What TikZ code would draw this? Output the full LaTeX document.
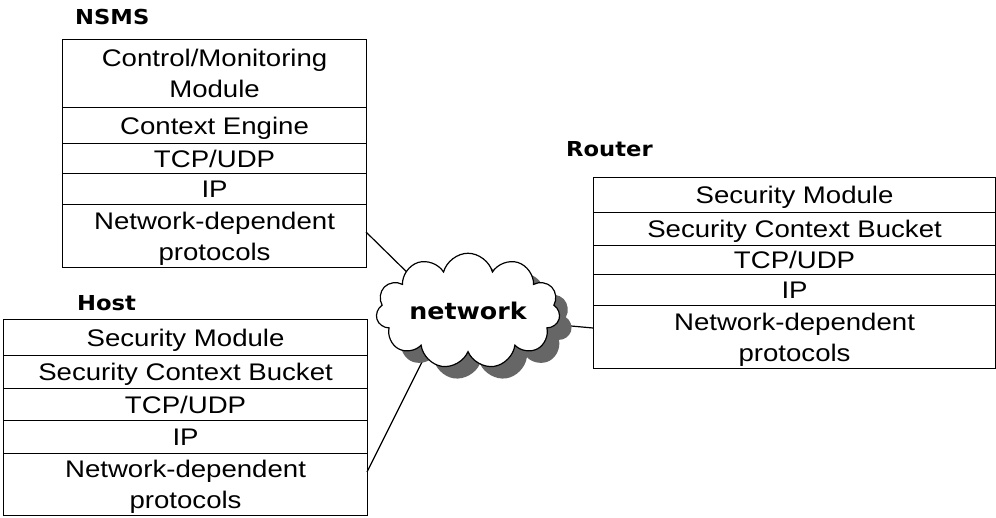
\documentclass[tikz,border=0pt]{standalone}
\usepackage{fontspec}
\usetikzlibrary{shapes.symbols,shadows}
\newfontfamily\bodyfont[FakeStretch=1.15]{Liberation Sans}
\newfontfamily\labfont[FakeStretch=1.1]{DejaVu Sans}
\begin{document}
\begin{tikzpicture}[x=1pt,y=-1pt,
  row/.style={draw, line width=1.1pt, inner sep=0pt, align=center, anchor=north west,
    font=\bodyfont\fontsize{24}{31}\selectfont},
  one/.style={text height=17pt, text depth=0pt},
  two/.style={text height=48pt, text depth=0pt},
  lab/.style={anchor=base west, inner sep=0pt, font=\labfont\bfseries\fontsize{20.6}{24}\selectfont},
  link/.style={line width=1.2pt}]
\useasboundingbox (0,0) rectangle (996,518);

% NSMS
\node[lab] (nsmsl) at (75,25) {NSMS};
\node[row,two,minimum width=304pt,minimum height=68pt] (n1) at (62,39) {Control/Monitoring\\Module};
\node[row,one,minimum width=304pt,minimum height=36pt] (n2) at (62,107) {Context Engine};
\node[row,one,minimum width=304pt,minimum height=30pt] (n3) at (62,143) {TCP/UDP};
\node[row,one,minimum width=304pt,minimum height=31pt] (n4) at (62,173) {IP};
\node[row,two,minimum width=304pt,minimum height=63pt] (n5) at (62,204) {Network-dependent\\protocols};

% Host
\node[lab] (hostl) at (77,311) {Host};
\node[row,one,minimum width=364pt,minimum height=36pt] (h1) at (3,319) {Security Module};
\node[row,one,minimum width=364pt,minimum height=33pt] (h2) at (3,355) {Security Context Bucket};
\node[row,one,minimum width=364pt,minimum height=32pt] (h3) at (3,388) {TCP/UDP};
\node[row,one,minimum width=364pt,minimum height=33pt] (h4) at (3,420) {IP};
\node[row,two,minimum width=364pt,minimum height=62pt] (h5) at (3,453) {Network-dependent\\protocols};

% Router
\node[lab] (routerl) at (566,157) {Router};
\node[row,one,minimum width=402pt,minimum height=35pt] (r1) at (593,177) {Security Module};
\node[row,one,minimum width=402pt,minimum height=33pt] (r2) at (593,212) {Security Context Bucket};
\node[row,one,minimum width=402pt,minimum height=29pt] (r3) at (593,245) {TCP/UDP};
\node[row,one,minimum width=402pt,minimum height=31pt] (r4) at (593,274) {IP};
\node[row,two,minimum width=402pt,minimum height=63pt] (r5) at (593,305) {Network-dependent\\protocols};

% connectors (ends hidden under the cloud)
\coordinate (nsmsEnd) at (366,232);
\coordinate (hostEnd) at (367,472);
\coordinate (cn) at (420,285);
\coordinate (ch) at (428,350);
\coordinate (cr) at (560,325);
\draw[link] (nsmsEnd) -- (cn);
\draw[link] (hostEnd) -- (ch);
\draw[link] (r5.west |- 0,328) -- (cr);

% cloud
\node[cloud, cloud puffs=11, aspect=2, draw, line width=1.2pt, fill=white,
  minimum width=184pt, minimum height=88pt, inner sep=0pt,
  drop shadow={shadow xshift=12pt, shadow yshift=-12pt, fill=black!60, opacity=1},
  font=\labfont\bfseries\fontsize{23}{26}\selectfont] (net) at (468,311) {network};
\end{tikzpicture}
\end{document}
